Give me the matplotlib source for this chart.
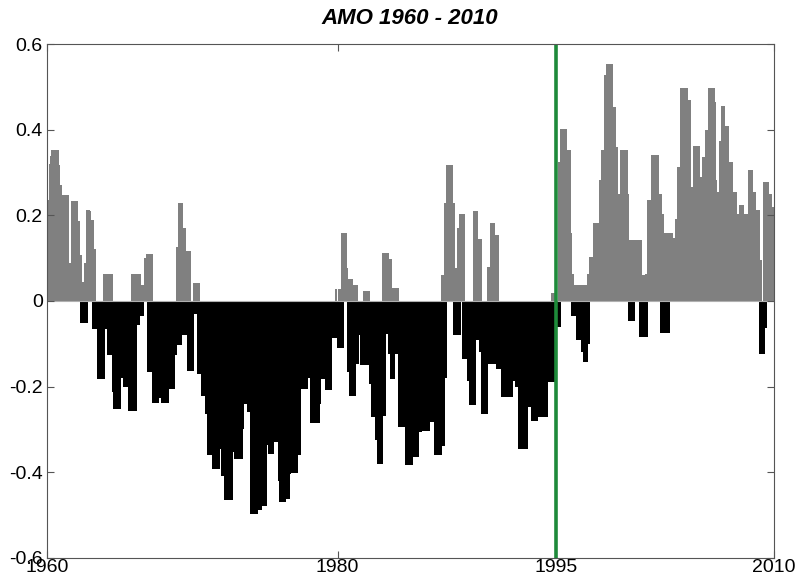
import numpy as np
import matplotlib.pyplot as plt

# Monthly AMO index, one list per decade (12 values per year)
amo_1960s = [
    0.235, 0.235, 0.32, 0.34, 0.354, 0.354, 0.354, 0.354, 0.354, 0.317, 0.27, 0.27,
    0.247, 0.247, 0.247, 0.247, 0.247, 0.247, 0.056, 0.089, 0.233, 0.233, 0.233, 0.233,
    0.233, 0.186, 0.186, 0.108, -0.051, 0.044, -0.051, 0.089, -0.051, 0.212, 0.212, 0.21,
    0.19, 0.19, -0.065, 0.122, -0.065, -0.065, -0.182, -0.182, -0.182, -0.182, -0.182, 0.062,
    -0.065, 0.062, -0.127, 0.062, -0.127, 0.062, -0.213, -0.252, -0.252, -0.252, -0.252, -0.252,
    -0.252, -0.18, -0.18, -0.2, -0.2, -0.2, -0.2, -0.256, -0.256, -0.256, 0.064, -0.256,
    0.064, -0.256, 0.064, -0.057, 0.064, -0.036, 0.037, -0.036, 0.037, 0.10, 0.109, -0.166,
    0.109, -0.166, 0.109, -0.239, -0.239, -0.239, -0.239, -0.239, -0.227, -0.227, -0.227, -0.239,
    -0.239, -0.239, -0.239, -0.239, -0.205, -0.205, -0.205, -0.205, -0.205, -0.127, -0.127, 0.126,
    -0.104, 0.229, -0.104, 0.229, -0.08, 0.171, -0.08, 0.117, -0.164, 0.117, -0.164, -0.164,
]
amo_1970s = [
    -0.164, 0.042, -0.03, 0.042, -0.17, 0.042, -0.17, -0.17, -0.221, -0.221, -0.221, -0.264,
    -0.264, -0.361, -0.361, -0.361, -0.361, -0.392, -0.392, -0.392, -0.392, -0.392, -0.345, -0.345,
    -0.41, -0.41, -0.41, -0.466, -0.466, -0.466, -0.466, -0.466, -0.466, -0.353, -0.353, -0.369,
    -0.369, -0.369, -0.369, -0.369, -0.369, -0.299, -0.15, -0.24, -0.24, -0.24, -0.26, -0.26,
    -0.499, -0.499, -0.499, -0.499, -0.499, -0.499, -0.488, -0.488, -0.488, -0.478, -0.478, -0.478,
    -0.478, -0.337, -0.337, -0.357, -0.357, -0.357, -0.357, -0.33, -0.33, -0.33, -0.33, -0.42,
    -0.469, -0.469, -0.469, -0.469, -0.469, -0.463, -0.463, -0.463, -0.404, -0.402, -0.402, -0.402,
    -0.402, -0.402, -0.402, -0.361, -0.361, -0.193, -0.205, -0.205, -0.205, -0.205, -0.205, -0.18,
    -0.18, -0.18, -0.285, -0.285, -0.285, -0.285, -0.285, -0.285, -0.285, -0.24, -0.182, -0.182,
    -0.182, -0.182, -0.209, -0.209, -0.209, -0.209, -0.209, -0.086, -0.086, -0.086, 0.027, -0.086,
]
amo_1980s = [
    -0.109, 0.027, -0.109, 0.158, -0.109, 0.158, 0.158, 0.077, -0.166, 0.052, -0.221, 0.052,
    -0.221, 0.037, -0.221, 0.037, -0.147, -0.08, -0.08, -0.15, -0.15, 0.023, -0.15, 0.023,
    -0.15, 0.023, -0.193, -0.193, -0.271, -0.271, -0.271, -0.326, -0.326, -0.38, -0.38, -0.38,
    -0.38, 0.113, -0.268, 0.113, -0.076, 0.113, -0.123, 0.099, -0.182, 0.031, -0.182, 0.031,
    -0.123, 0.031, -0.295, -0.295, -0.295, -0.295, -0.295, -0.295, -0.384, -0.384, -0.384, -0.384,
    -0.384, -0.384, -0.365, -0.365, -0.365, -0.365, -0.365, -0.307, -0.307, -0.244, -0.304, -0.304,
    -0.304, -0.304, -0.304, -0.304, -0.283, -0.283, -0.283, -0.283, -0.361, -0.361, -0.361, -0.361,
    -0.361, -0.361, 0.06, -0.34, 0.228, -0.18, 0.317, 0.317, 0.317, 0.317, 0.317, 0.228,
    -0.08, 0.078, -0.08, 0.171, -0.08, 0.204, 0.204, -0.135, 0.204, -0.135, -0.135, -0.187,
    -0.187, -0.244, -0.244, -0.244, 0.21, -0.244, 0.21, -0.092, 0.146, -0.119, 0.146, -0.264,
]
amo_1990s = [
    -0.264, -0.264, -0.264, -0.264, 0.08, -0.147, 0.182, -0.147, 0.182, -0.147, 0.154, -0.158,
    0.154, -0.158, -0.158, -0.225, -0.225, -0.225, -0.225, -0.225, -0.225, -0.225, -0.225, -0.225,
    -0.186, -0.186, -0.186, -0.2, -0.2, -0.345, -0.345, -0.345, -0.345, -0.345, -0.345, -0.345,
    -0.345, -0.248, -0.248, -0.248, -0.28, -0.28, -0.28, -0.28, -0.28, -0.27, -0.27, -0.27,
    -0.27, -0.27, -0.27, -0.27, -0.27, -0.19, -0.19, -0.19, -0.19, 0.019, -0.19, 0.019,
    -0.06, -0.06, 0.325, -0.06, 0.403, 0.403, 0.403, 0.403, 0.403, 0.352, 0.352, 0.352,
    0.158, -0.034, 0.064, -0.034, 0.038, -0.092, 0.038, -0.092, 0.038, -0.119, 0.038, -0.143,
    0.038, -0.143, 0.064, -0.1, 0.103, 0.103, 0.103, 0.182, 0.182, 0.182, 0.182, 0.182,
    0.282, 0.282, 0.352, 0.352, 0.528, 0.528, 0.555, 0.555, 0.555, 0.555, 0.555, 0.454,
    0.454, 0.36, 0.36, 0.228, 0.251, 0.251, 0.354, 0.354, 0.354, 0.354, 0.354, 0.25,
]
amo_2000s = [
    -0.047, 0.143, -0.047, 0.143, -0.047, 0.143, 0.143, 0.143, 0.143, -0.084, 0.143, -0.084,
    0.06, -0.084, 0.062, -0.084, 0.237, 0.237, 0.237, 0.341, 0.341, 0.341, 0.341, 0.341,
    0.341, 0.25, 0.25, -0.075, 0.204, -0.075, 0.158, -0.075, 0.16, -0.075, 0.16, 0.16,
    0.147, 0.147, 0.147, 0.192, 0.192, 0.313, 0.313, 0.497, 0.497, 0.497, 0.497, 0.497,
    0.497, 0.469, 0.469, 0.267, 0.267, 0.25, 0.362, 0.362, 0.362, 0.362, 0.362, 0.29,
    0.29, 0.336, 0.336, 0.336, 0.4, 0.4, 0.497, 0.497, 0.497, 0.497, 0.497, 0.466,
    0.282, 0.255, 0.255, 0.375, 0.375, 0.455, 0.455, 0.41, 0.41, 0.41, 0.41, 0.325,
    0.325, 0.325, 0.255, 0.255, 0.255, 0.204, 0.204, 0.204, 0.224, 0.224, 0.224, 0.204,
    0.204, 0.204, 0.204, 0.306, 0.306, 0.306, 0.255, 0.255, 0.255, 0.212, 0.212, 0.212,
    -0.125, 0.095, -0.125, -0.125, 0.278, -0.062, 0.278, 0.278, 0.25, 0.25, 0.22, 0.22,
]

start_year = 1960
end_year = 2010
marker_year = 1995
year_ticks = [1960, 1980, 1995, 2010]
value_ticks = [-0.6, -0.4, -0.2, 0, 0.2, 0.4, 0.6]
value_labels = ["-0.6", "-0.4", "-0.2", "0", "0.2", "0.4", "0.6"]

amo = np.array(amo_1960s + amo_1970s + amo_1980s + amo_1990s + amo_2000s)
t = start_year + (np.arange(len(amo)) + 0.5) / 12.0

plt.rcParams['font.family'] = ['Liberation Sans', 'DejaVu Sans']

fig = plt.figure(figsize=(7.95, 5.78), dpi=100)
ax = fig.add_axes([47 / 795, 20.3 / 578, 726.7 / 795, 513.4 / 578])

# positive months gray, negative months black
pos = amo >= 0
ax.bar(t[pos], amo[pos], width=2 / 12, color='#808080', linewidth=0)
ax.bar(t[~pos], amo[~pos], width=2 / 12, color='black', linewidth=0)
ax.axhline(0, color='#b0b0b0', linewidth=0.8, zorder=1)

# 1995 marker
ax.axvline(marker_year, color='#1e8a3a', linewidth=2.6)

ax.set_xlim(start_year, end_year)
ax.set_ylim(-0.6, 0.6)
ax.set_xticks(year_ticks)
ax.set_yticks(value_ticks)
ax.set_yticklabels(value_labels)
ax.tick_params(direction='in', length=5, top=True, right=True,
               labelsize=14, color='#555555')
ax.tick_params(axis='x', pad=1)
ax.tick_params(axis='y', pad=3)
for s in ax.spines.values():
    s.set_color('#555555')
    s.set_linewidth(0.8)

fig.text(0.516, 1 - 18 / 578, 'AMO 1960 - 2010', ha='center', va='center',
         fontsize=16, fontweight='bold', fontstyle='italic')

fig.savefig('out.png', dpi=100)
